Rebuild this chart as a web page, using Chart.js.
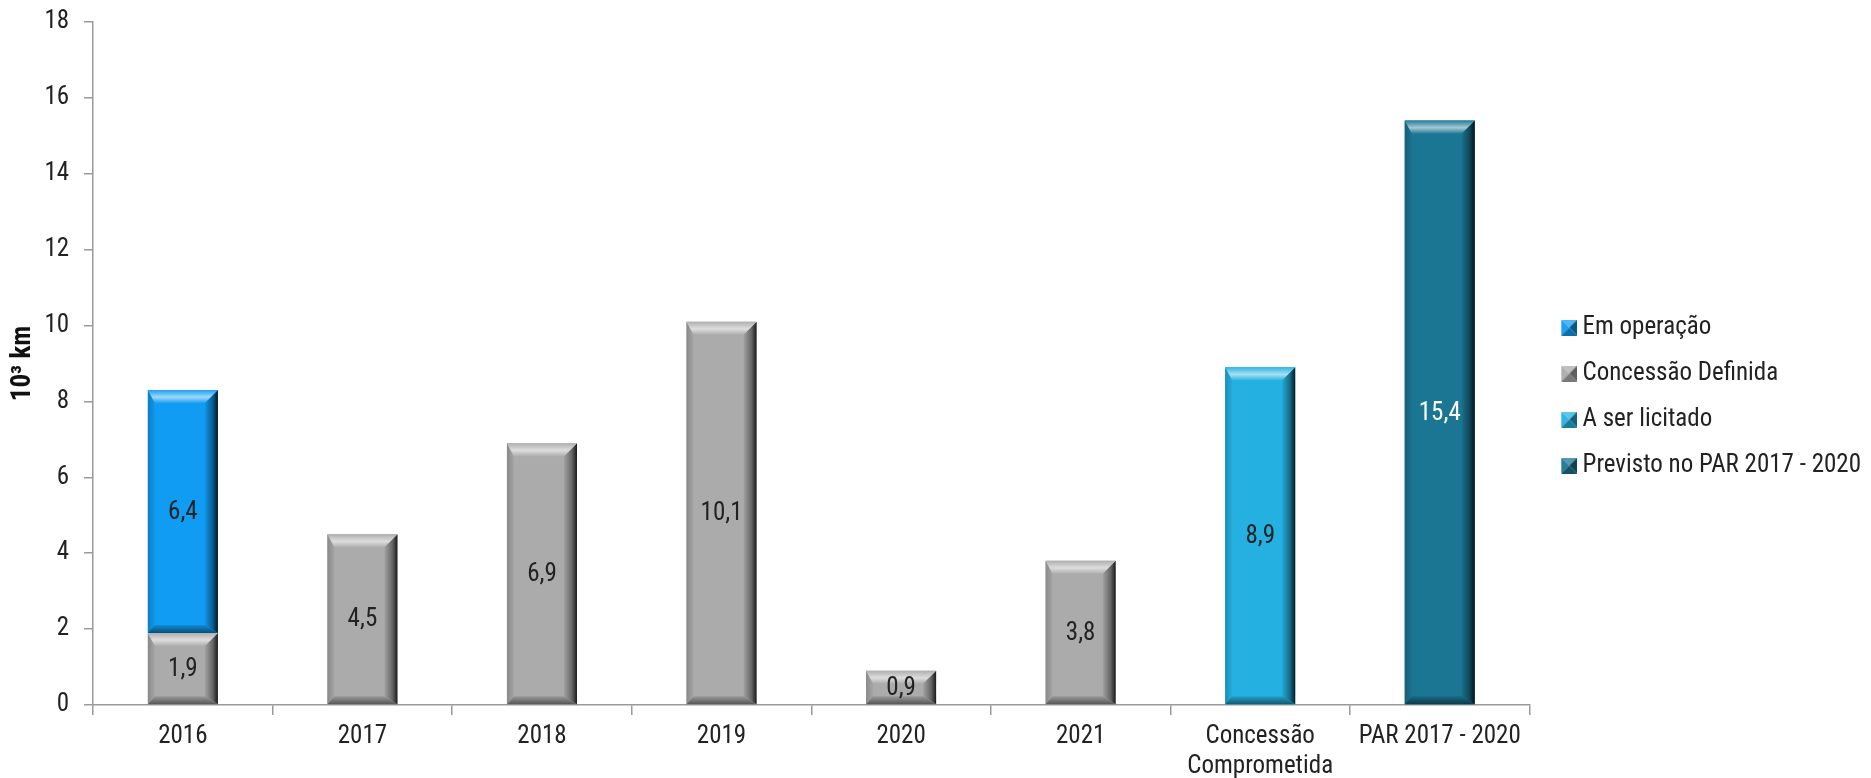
<!DOCTYPE html>
<html>
<head>
<meta charset="utf-8">
<script src="https://cdn.jsdelivr.net/npm/chart.js@4/dist/chart.umd.min.js"></script>
<style>
    html, body { margin: 0; padding: 0; background: #fff; overflow: hidden; }
    #wrap { width: 1871px; height: 798px; position: relative; }
</style>
</head>
<body>
<div id="wrap"><canvas id="chart"></canvas></div>
<script>
// chart data
const categories = ['2016', '2017', '2018', '2019', '2020', '2021', ['Concessão', 'Comprometida'], 'PAR 2017 - 2020'];
const emOperacao = [6.4, null, null, null, null, null, null, null];
const concessaoDefinida = [1.9, 4.5, 6.9, 10.1, 0.9, 3.8, null, null];
const aSerLicitado = [null, null, null, null, null, null, 8.9, null];
const previstoPar = [null, null, null, null, null, null, null, 15.4];
const legendOrder = ['Em operação', 'Concessão Definida', 'A ser licitado', 'Previsto no PAR 2017 - 2020'];

const FONT = "'Roboto Condensed', 'Liberation Sans', Arial, sans-serif";

function shade(hex, amt) {
    // amt > 0 lightens toward white, amt < 0 darkens toward black
    const n = parseInt(hex.slice(1), 16);
    let r = (n >> 16) & 255, g = (n >> 8) & 255, b = n & 255;
    const t = amt < 0 ? 0 : 255, p = Math.abs(amt);
    r = Math.round(r + (t - r) * p);
    g = Math.round(g + (t - g) * p);
    b = Math.round(b + (t - b) * p);
    return `rgb(${r},${g},${b})`;
}

// small bevelled square for the legend, sitting at the right end of a wider transparent canvas
function legendIcon(color) {
    const c = document.createElement('canvas');
    c.width = 34; c.height = 16;
    const g = c.getContext('2d');
    const x = 18, s = 16, m = s / 2;
    const tri = (pts, fill) => {
        g.fillStyle = fill;
        g.beginPath();
        g.moveTo(pts[0][0], pts[0][1]);
        pts.slice(1).forEach(p => g.lineTo(p[0], p[1]));
        g.closePath(); g.fill();
    };
    tri([[x, 0], [x + s, 0], [x + m, m]], shade(color, 0.25));
    tri([[x, 0], [x + m, m], [x, s]], shade(color, 0.05));
    tri([[x + s, 0], [x + s, s], [x + m, m]], shade(color, -0.45));
    tri([[x, s], [x + s, s], [x + m, m]], shade(color, -0.3));
    return c;
}

// bevel look on each bar, drawn over the bar elements the library placed
const bevelPlugin = {
    id: 'bevel',
    afterDatasetsDraw(chart) {
        const ctx = chart.ctx;
        chart.data.datasets.forEach((ds, i) => {
            const meta = chart.getDatasetMeta(i);
            meta.data.forEach((bar, j) => {
                if (ds.data[j] == null) return;
                const p = bar.getProps(['x', 'y', 'base', 'width'], true);
                const l = p.x - p.width / 2, r = p.x + p.width / 2;
                const t = Math.min(p.y, p.base), bt = Math.max(p.y, p.base);
                const h = bt - t;
                const bT = Math.min(13, h * 0.38), bB = Math.min(8, h * 0.24);
                const bL = 7, bR = 13;
                const c = ds.backgroundColor;
                ctx.save();
                // left
                let g = ctx.createLinearGradient(l, 0, l + bL, 0);
                g.addColorStop(0, shade(c, -0.2));
                g.addColorStop(1, shade(c, -0.03));
                ctx.fillStyle = g;
                ctx.beginPath();
                ctx.moveTo(l, t); ctx.lineTo(l + bL, t + bT); ctx.lineTo(l + bL, bt - bB); ctx.lineTo(l, bt);
                ctx.closePath(); ctx.fill();
                // right
                g = ctx.createLinearGradient(r - bR, 0, r, 0);
                g.addColorStop(0, shade(c, -0.05));
                g.addColorStop(0.6, shade(c, -0.4));
                g.addColorStop(1, shade(c, -0.85));
                ctx.fillStyle = g;
                ctx.beginPath();
                ctx.moveTo(r, t); ctx.lineTo(r, bt); ctx.lineTo(r - bR, bt - bB); ctx.lineTo(r - bR, t + bT);
                ctx.closePath(); ctx.fill();
                // top
                g = ctx.createLinearGradient(0, t, 0, t + bT);
                g.addColorStop(0, shade(c, 0.05));
                g.addColorStop(0.55, shade(c, 0.6));
                g.addColorStop(1, shade(c, 0.05));
                ctx.fillStyle = g;
                ctx.beginPath();
                ctx.moveTo(l, t); ctx.lineTo(r, t); ctx.lineTo(r - bR, t + bT); ctx.lineTo(l + bL, t + bT);
                ctx.closePath(); ctx.fill();
                // bottom
                g = ctx.createLinearGradient(0, bt - bB, 0, bt);
                g.addColorStop(0, shade(c, -0.1));
                g.addColorStop(1, shade(c, -0.5));
                ctx.fillStyle = g;
                ctx.beginPath();
                ctx.moveTo(l, bt); ctx.lineTo(r, bt); ctx.lineTo(r - bR, bt - bB); ctx.lineTo(l + bL, bt - bB);
                ctx.closePath(); ctx.fill();
                ctx.restore();
            });
        });
    }
};

// value labels in the middle of each bar
const valueLabels = {
    id: 'valueLabels',
    afterDatasetsDraw(chart) {
        const ctx = chart.ctx;
        ctx.save();
        ctx.font = `25px ${FONT}`;
        ctx.textAlign = 'center';
        ctx.textBaseline = 'middle';
        chart.data.datasets.forEach((ds, i) => {
            chart.getDatasetMeta(i).data.forEach((bar, j) => {
                const v = ds.data[j];
                if (v == null) return;
                const p = bar.getProps(['x', 'y', 'base'], true);
                ctx.fillStyle = ds.labelColor || '#222';
                ctx.fillText(v.toFixed(1).replace('.', ','), p.x, (p.y + p.base) / 2 + 1);
            });
        });
        ctx.restore();
    }
};

const ctx = document.getElementById('chart').getContext('2d');
new Chart(ctx, {
    type: 'bar',
    data: {
        labels: categories,
        datasets: [
            { label: 'Concessão Definida', data: concessaoDefinida, backgroundColor: '#ababab' },
            { label: 'Em operação', data: emOperacao, backgroundColor: '#109cf2' },
            { label: 'A ser licitado', data: aSerLicitado, backgroundColor: '#24b1e1' },
            { label: 'Previsto no PAR 2017 - 2020', data: previstoPar, backgroundColor: '#1b7694', labelColor: '#ffffff' }
        ]
    },
    options: {
        responsive: true,
        maintainAspectRatio: false,
        animation: false,
        barPercentage: 0.39,
        categoryPercentage: 1,
        layout: { padding: { top: 4, left: 0, right: 0, bottom: 9 } },
        plugins: {
            tooltip: { enabled: false },
            legend: {
                position: 'right',
                labels: {
                    font: { family: FONT, size: 25 },
                    color: '#222',
                    usePointStyle: true,
                    pointStyleWidth: 19.5,
                    boxHeight: 16,
                    padding: 21,
                    sort: (a, b) => legendOrder.indexOf(a.text) - legendOrder.indexOf(b.text),
                    generateLabels(chart) {
                        const items = Chart.defaults.plugins.legend.labels.generateLabels(chart);
                        items.forEach(it => {
                            it.pointStyle = legendIcon(chart.data.datasets[it.datasetIndex].backgroundColor);
                        });
                        return items;
                    }
                }
            }
        },
        scales: {
            x: {
                stacked: true,
                border: { color: '#9a9a9a', width: 1.5 },
                grid: { drawOnChartArea: false, drawTicks: true, tickLength: 10, color: '#9a9a9a', lineWidth: 1.5 },
                ticks: { font: { family: FONT, size: 25, lineHeight: 1.2 }, color: '#222', padding: 7, maxRotation: 0 }
            },
            y: {
                stacked: true,
                min: 0,
                max: 18,
                border: { color: '#9a9a9a', width: 1.5 },
                grid: { drawOnChartArea: false, drawTicks: true, tickLength: 9, color: '#9a9a9a', lineWidth: 1.5 },
                ticks: { stepSize: 2, font: { family: FONT, size: 25, lineHeight: 0.55 }, color: '#222', padding: 15 },
                title: {
                    display: true,
                    text: '10³ km',
                    padding: { top: 7, bottom: -10 },
                    font: { family: FONT, size: 27, weight: 'bold' },
                    color: '#111'
                }
            }
        }
    },
    plugins: [bevelPlugin, valueLabels]
});
</script>
</body>
</html>
